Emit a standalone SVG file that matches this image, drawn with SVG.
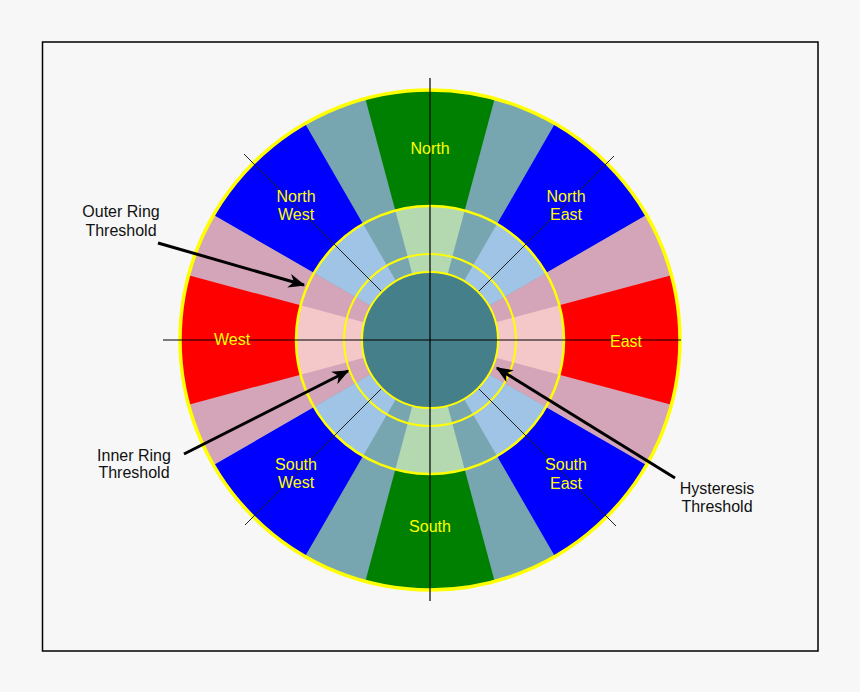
<svg xmlns="http://www.w3.org/2000/svg" width="860" height="692" viewBox="0 0 860 692">
<defs>
<style>
.lbl{font-family:"Liberation Sans",Arial,sans-serif;font-size:16px;fill:#ffff00;text-anchor:middle}
.note{font-family:"Liberation Sans",Arial,sans-serif;font-size:16px;fill:#111;text-anchor:middle}
.ax{stroke:#000;stroke-width:1.2;fill:none}
.dg{stroke:#222;stroke-width:1;fill:none}
.ring{fill:none;stroke:#ffff00}
.arr{stroke:#000;stroke-width:3;fill:none;marker-end:url(#ah)}
</style>
<marker id="ah" viewBox="0 0 12 10" refX="11" refY="5" markerWidth="5.6" markerHeight="4.7" orient="auto" markerUnits="strokeWidth">
<path d="M0,0 L12,5 L0,10 L3.5,5 Z" fill="#000"/>
</marker>
</defs>
<rect x="0" y="0" width="860" height="692" fill="#f7f7f7"/>
<rect x="42.5" y="42" width="775.5" height="609" fill="#f7f7f7" stroke="#000" stroke-width="1.5"/>

<g id="outer-ring">
<circle cx="430" cy="340" r="250" fill="#78a6b0"/>
<path d="M430,340 L365.30,98.52 A250,250 0 0 1 494.70,98.52 Z" fill="#008000"/>
<path d="M430,340 L365.30,581.48 A250,250 0 0 0 494.70,581.48 Z" fill="#008000"/>
<path d="M430,340 L555,123.49 A250,250 0 0 1 646.51,215 Z" fill="#0000ff"/>
<path d="M430,340 L646.51,465 A250,250 0 0 1 555,556.51 Z" fill="#0000ff"/>
<path d="M430,340 L305,556.51 A250,250 0 0 1 213.49,465 Z" fill="#0000ff"/>
<path d="M430,340 L213.49,215 A250,250 0 0 1 305,123.49 Z" fill="#0000ff"/>
<path d="M430,340 L646.51,215 A250,250 0 0 1 646.51,465 Z" fill="#d4a5b8"/>
<path d="M430,340 L213.49,465 A250,250 0 0 1 213.49,215 Z" fill="#d4a5b8"/>
<path d="M430,340 L671.48,275.30 A250,250 0 0 1 671.48,404.70 Z" fill="#ff0000"/>
<path d="M430,340 L188.52,404.70 A250,250 0 0 1 188.52,275.30 Z" fill="#ff0000"/>
</g>

<g id="middle-ring">
<circle cx="430" cy="340" r="134" fill="#78a6b0"/>
<path d="M430,340 L395.32,210.57 A134,134 0 0 1 464.68,210.57 Z" fill="#b4d8b0"/>
<path d="M430,340 L395.32,469.43 A134,134 0 0 0 464.68,469.43 Z" fill="#b4d8b0"/>
<path d="M430,340 L497,223.95 A134,134 0 0 1 546.05,273 Z" fill="#a0c4e6"/>
<path d="M430,340 L546.05,407 A134,134 0 0 1 497,456.05 Z" fill="#a0c4e6"/>
<path d="M430,340 L363,456.05 A134,134 0 0 1 313.95,407 Z" fill="#a0c4e6"/>
<path d="M430,340 L313.95,273 A134,134 0 0 1 363,223.95 Z" fill="#a0c4e6"/>
<path d="M430,340 L546.05,273 A134,134 0 0 1 546.05,407 Z" fill="#d4a5b8"/>
<path d="M430,340 L313.95,407 A134,134 0 0 1 313.95,273 Z" fill="#d4a5b8"/>
<path d="M430,340 L559.43,305.32 A134,134 0 0 1 559.43,374.68 Z" fill="#f4c8c8"/>
<path d="M430,340 L300.57,374.68 A134,134 0 0 1 300.57,305.32 Z" fill="#f4c8c8"/>
</g>

<g id="rings">
<circle class="ring" cx="430" cy="340" r="250" stroke-width="3.5"/>
<circle class="ring" cx="430" cy="340" r="134" stroke-width="2.5"/>
<circle class="ring" cx="430" cy="340" r="86" stroke-width="2"/>
</g>

<g id="diagonals">
<line class="dg" x1="430" y1="340" x2="614" y2="156"/>
<line class="dg" x1="430" y1="340" x2="244" y2="154"/>
<line class="dg" x1="430" y1="340" x2="616" y2="526"/>
<line class="dg" x1="430" y1="340" x2="245" y2="525"/>
</g>

<g id="center-disk">
<circle cx="430" cy="340" r="68" fill="#457f89" stroke="#ffff00" stroke-width="2"/>
</g>

<g id="axes">
<line class="ax" x1="430" y1="78" x2="430" y2="601"/>
<line class="ax" x1="163" y1="340" x2="681" y2="340"/>
</g>

<g id="labels">
<text class="lbl" x="430" y="154">North</text>
<text class="lbl" x="296" y="202">North</text>
<text class="lbl" x="296" y="220">West</text>
<text class="lbl" x="566" y="202">North</text>
<text class="lbl" x="566" y="220">East</text>
<text class="lbl" x="232" y="344.5">West</text>
<text class="lbl" x="626" y="346.5">East</text>
<text class="lbl" x="296" y="469.5">South</text>
<text class="lbl" x="296" y="488">West</text>
<text class="lbl" x="566" y="470">South</text>
<text class="lbl" x="566" y="488.5">East</text>
<text class="lbl" x="430" y="532">South</text>
</g>

<g id="connectors">
<line class="arr" x1="158" y1="243" x2="304" y2="285"/>
<line class="arr" x1="184" y1="454" x2="348" y2="371"/>
<line class="arr" x1="675" y1="478" x2="497" y2="368"/>
</g>

<g id="note-outer"><text class="note" x="121" y="217">Outer Ring</text><text class="note" x="121" y="236">Threshold</text></g>
<g id="note-inner"><text class="note" x="134" y="461">Inner Ring</text><text class="note" x="134" y="477.5">Threshold</text></g>
<g id="note-hyst"><text class="note" x="717" y="493.5">Hysteresis</text><text class="note" x="717" y="512">Threshold</text></g>
</svg>
